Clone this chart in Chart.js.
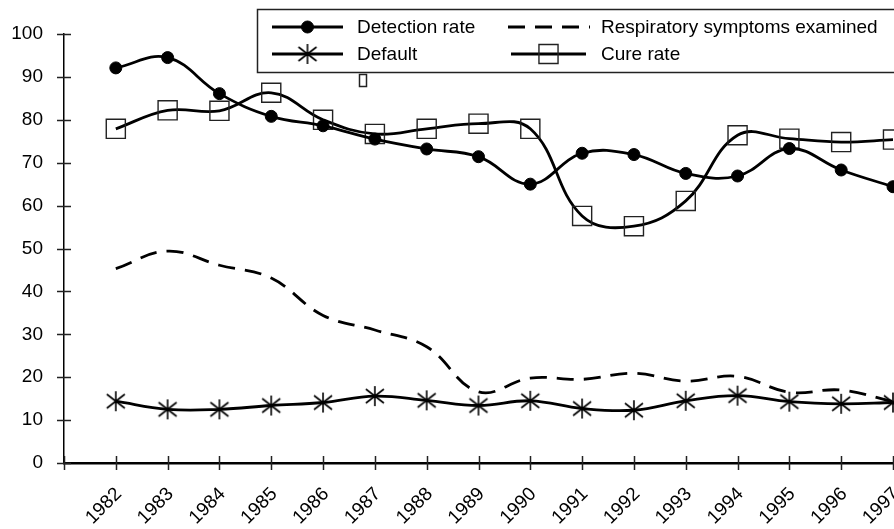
<!DOCTYPE html>
<html>
<head>
<meta charset="utf-8">
<script src="https://cdn.jsdelivr.net/npm/chart.js@4"></script>
<style>
  html, body { margin: 0; padding: 0; background: #fff; overflow: hidden; }
  canvas { display: block; }
</style>
</head>
<body>
<canvas id="chart" width="894" height="529"></canvas>
<script>
// Data
const years = [1982, 1983, 1984, 1985, 1986, 1987, 1988, 1989, 1990, 1991, 1992, 1993, 1994, 1995, 1996, 1997];
const detectionRate = [92.1, 94.5, 86.1, 80.8, 78.6, 75.5, 73.2, 71.4, 65.0, 72.2, 71.9, 67.5, 66.9, 73.3, 68.3, 64.4];
const respiratoryExamined = [45.3, 49.4, 46.1, 43.1, 34.4, 31.0, 27.1, 16.6, 19.8, 19.5, 20.9, 19.1, 20.2, 16.5, 17.0, 14.3];
const defaultRate = [14.4, 12.5, 12.5, 13.4, 14.1, 15.6, 14.6, 13.4, 14.5, 12.7, 12.3, 14.5, 15.7, 14.3, 13.8, 14.1];
const cureRate = [77.9, 82.2, 82.1, 86.3, 80.0, 76.7, 77.9, 79.1, 77.9, 57.6, 55.2, 61.1, 76.4, 75.6, 74.8, 75.4];
const yTicks = [0, 10, 20, 30, 40, 50, 60, 70, 80, 90, 100];
const labels = ['Detection rate', 'Respiratory symptoms examined', 'Default', 'Cure rate'];

const FONT_FAMILY = '"Liberation Sans", Arial, sans-serif';
const FONT = '19px ' + FONT_FAMILY;
const INK = '#000';

function toPoints(values) {
    return values.map((v, i) => ({ x: years[i], y: v }));
}

// asterisk marker (vertical bar + X) like the original
function makeAsterisk() {
    const c = document.createElement('canvas');
    c.width = 22;
    c.height = 22;
    const g = c.getContext('2d');
    g.strokeStyle = INK;
    g.lineWidth = 1.6;
    g.beginPath();
    g.moveTo(11, 1); g.lineTo(11, 21);
    g.moveTo(2, 4); g.lineTo(20, 18);
    g.moveTo(20, 4); g.lineTo(2, 18);
    g.stroke();
    return c;
}
const asterisk = makeAsterisk();

// crossing tick marks on both axes
const crossTicks = {
    id: 'crossTicks',
    afterDraw(chart) {
        const ctx = chart.ctx;
        const xs = chart.scales.x;
        const ys = chart.scales.y;
        const x0 = ys.right;
        const y0 = xs.top;
        ctx.save();
        ctx.strokeStyle = '#222';
        ctx.lineWidth = 1.5;
        ctx.beginPath();
        ys.ticks.forEach(t => {
            const py = Math.round(ys.getPixelForValue(t.value)) + 0.5;
            ctx.moveTo(x0 - 7, py);
            ctx.lineTo(x0 + 7, py);
        });
        xs.ticks.forEach(t => {
            const px = Math.round(xs.getPixelForValue(t.value)) + 0.5;
            ctx.moveTo(px, y0 - 7);
            ctx.lineTo(px, y0 + 7);
        });
        ctx.stroke();
        ctx.restore();
    }
};

// boxed two-column legend at the top right
const boxLegend = {
    id: 'boxLegend',
    afterDraw(chart) {
        const ctx = chart.ctx;
        const ds = chart.data.datasets;
        ctx.save();
        ctx.fillStyle = '#fff';
        ctx.fillRect(257, 9, 700, 63);
        ctx.strokeStyle = '#222';
        ctx.lineWidth = 1.5;
        ctx.strokeRect(257.5, 9.5, 700, 63);
        // stray little box under the legend, as in the original
        ctx.strokeRect(359.5, 74.5, 7, 12);

        const items = [
            { ds: ds[0], x1: 272, x2: 343, tx: 357, y: 27 },
            { ds: ds[1], x1: 508, x2: 590, tx: 601, y: 27 },
            { ds: ds[2], x1: 272, x2: 343, tx: 357, y: 54 },
            { ds: ds[3], x1: 511, x2: 586, tx: 601, y: 54 }
        ];
        items.forEach(it => {
            ctx.strokeStyle = INK;
            ctx.lineWidth = 3;
            ctx.setLineDash(it.ds.borderDash || []);
            ctx.beginPath();
            ctx.moveTo(it.x1, it.y);
            ctx.lineTo(it.x2, it.y);
            ctx.stroke();
            ctx.setLineDash([]);
            if (it.ds.pointRadius > 0) {
                ctx.fillStyle = it.ds.pointBackgroundColor;
                ctx.strokeStyle = it.ds.pointBorderColor;
                ctx.lineWidth = it.ds.pointBorderWidth;
                Chart.helpers.drawPoint(ctx, {
                    pointStyle: it.ds.pointStyle,
                    radius: it.ds.pointRadius,
                    borderWidth: it.ds.pointBorderWidth,
                    rotation: 0
                }, (it.x1 + it.x2) / 2, it.y);
            }
            ctx.fillStyle = INK;
            ctx.font = FONT;
            ctx.textBaseline = 'middle';
            ctx.textAlign = 'left';
            ctx.fillText(it.ds.label, it.tx, it.y + 1);
        });
        ctx.restore();
    }
};

const ctx = document.getElementById('chart').getContext('2d');

new Chart(ctx, {
    type: 'line',
    data: {
        datasets: [
            {
                label: labels[0],
                data: toPoints(detectionRate),
                borderColor: INK,
                borderWidth: 2.8,
                tension: 0.4,
                pointStyle: 'circle',
                pointRadius: 6,
                pointBackgroundColor: INK,
                pointBorderColor: INK,
                pointBorderWidth: 1,
                clip: false
            },
            {
                label: labels[1],
                data: toPoints(respiratoryExamined),
                borderColor: INK,
                borderWidth: 2.8,
                borderDash: [17, 10],
                tension: 0.4,
                pointRadius: 0,
                clip: false
            },
            {
                label: labels[2],
                data: toPoints(defaultRate),
                borderColor: INK,
                borderWidth: 2.8,
                tension: 0.4,
                pointStyle: asterisk,
                pointRadius: 10,
                pointBackgroundColor: INK,
                pointBorderColor: INK,
                pointBorderWidth: 1,
                clip: false
            },
            {
                label: labels[3],
                data: toPoints(cureRate),
                borderColor: INK,
                borderWidth: 2.8,
                tension: 0.4,
                pointStyle: 'rect',
                pointRadius: 13.5,
                pointBackgroundColor: 'rgba(0,0,0,0)',
                pointBorderColor: '#222',
                pointBorderWidth: 1.4,
                clip: false
            }
        ]
    },
    options: {
        responsive: false,
        animation: false,
        devicePixelRatio: 1,
        layout: {
            autoPadding: false,
            padding: { top: 34, right: 1, left: 0, bottom: 0 }
        },
        scales: {
            x: {
                type: 'linear',
                min: 1981,
                max: 1997,
                grid: { display: true, drawOnChartArea: false, drawTicks: false },
                border: { display: true, color: INK, width: 2.5 },
                ticks: {
                    stepSize: 1,
                    autoSkip: false,
                    minRotation: 45,
                    maxRotation: 45,
                    padding: 20,
                    labelOffset: 3,
                    color: INK,
                    font: { family: FONT_FAMILY, size: 19 },
                    callback: v => (v === 1981 ? '' : String(v))
                },
                afterFit: scale => {
                    scale.height = 66;
                    scale.paddingLeft = 0;
                    scale.paddingRight = 0;
                }
            },
            y: {
                min: 0,
                max: 100,
                grid: { display: true, drawOnChartArea: false, drawTicks: false },
                border: { display: true, color: INK, width: 1.5 },
                afterBuildTicks: scale => {
                    scale.ticks = yTicks.map(v => ({ value: v }));
                },
                ticks: {
                    padding: 21,
                    color: INK,
                    font: { family: FONT_FAMILY, size: 19 }
                },
                afterFit: scale => {
                    scale.width = 64;
                }
            }
        },
        plugins: {
            legend: { display: false },
            tooltip: { enabled: false }
        }
    },
    plugins: [crossTicks, boxLegend]
});
</script>
</body>
</html>
